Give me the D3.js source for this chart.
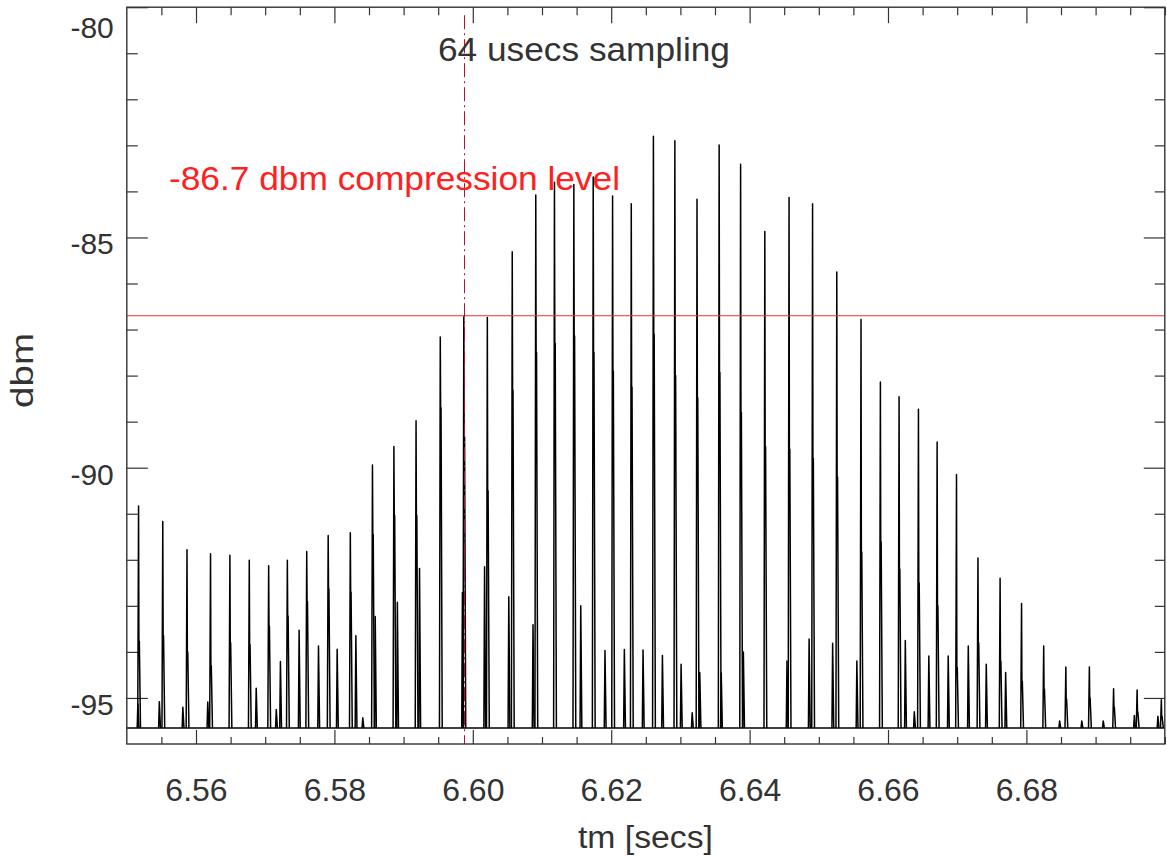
<!DOCTYPE html>
<html>
<head>
<meta charset="utf-8">
<script src="https://cdn.jsdelivr.net/npm/d3@7"></script>
<style>
  body { margin: 0; background: #fff; }
  svg { font-family: "Liberation Sans", Arial, Helvetica, sans-serif; }
  .axis text { fill: #333; font-size: 30px; }
  .axis line { stroke: #333; stroke-width: 1.2; }
  .trace { fill: none; stroke: #000; stroke-width: 1.5; stroke-linejoin: round; }
</style>
</head>
<body>
<div id="chart"></div>
<script>
// main pulses: time [secs], peak level [dbm], level of the step on the falling edge
var pulse_time = [6.5517, 6.5552, 6.5587, 6.5621, 6.5649, 6.5677, 6.5705, 6.5732, 6.5760, 6.5791,
                  6.5823, 6.5855, 6.5886, 6.5918, 6.5953, 6.5987, 6.6021, 6.6057, 6.6091, 6.6118,
                  6.6146, 6.6174, 6.6202, 6.6229, 6.6261, 6.6292, 6.6324, 6.6356, 6.6387, 6.6422,
                  6.6457, 6.6491, 6.6526, 6.6561, 6.6589, 6.6616, 6.6644, 6.6671, 6.6699, 6.6730,
                  6.6762, 6.6793, 6.6825, 6.6857, 6.6891, 6.6926, 6.6960, 6.6995];
var pulse_peak = [-90.83, -91.17, -91.78, -91.87, -91.90, -92.01, -92.13, -92.01, -91.82, -91.47,
                  -91.41, -89.94, -89.54, -88.98, -87.16, -86.72, -86.74, -85.31, -84.08, -83.80,
                  -83.85, -83.69, -84.10, -84.27, -82.80, -82.90, -84.17, -82.99, -83.41, -84.87,
                  -84.13, -84.27, -85.75, -86.78, -88.14, -88.46, -88.73, -89.44, -90.15, -91.96,
                  -92.40, -92.95, -93.87, -94.33, -94.33, -94.80, -94.83, -95.04];
var pulse_step = [-93.77, -93.65, -94.00, -94.30, -93.80, -93.84, -93.44, -93.22, -92.90, -92.63,
                  -92.70, -91.45, -91.04, -91.04, -88.70, -89.32, -90.50, -88.32, -87.50, -87.30,
                  -87.14, -87.50, -87.90, -88.25, -87.10, -88.00, -88.48, -87.93, -88.80, -89.54,
                  -89.60, -89.80, -90.20, -91.83, -91.61, -92.20, -92.50, -93.00, -94.34, -93.80,
                  -94.20, -94.64, -94.81, -95.03, -95.00, -95.20, -95.30, -95.40];

// small side pulses: time [secs], peak level [dbm]
var blip_time = [6.5516, 6.5547, 6.5581, 6.5617, 6.5687, 6.5716, 6.5722, 6.5749, 6.5777, 6.5804,
                 6.5831, 6.5841, 6.5859, 6.5891, 6.5923, 6.5985, 6.6017, 6.6052, 6.6087, 6.6156,
                 6.6191, 6.6219, 6.6246, 6.6274, 6.6301, 6.6317, 6.6328, 6.6359, 6.6391, 6.6454,
                 6.6486, 6.6520, 6.6555, 6.6625, 6.6638, 6.6659, 6.6687, 6.6716, 6.6742, 6.6770,
                 6.6848, 6.6880, 6.6911, 6.6956, 6.6990];
var blip_peak = [-95.13, -95.08, -95.20, -95.09, -94.79, -95.25, -94.21, -93.53, -93.87, -93.94,
                 -93.65, -95.43, -93.23, -92.92, -92.19, -92.71, -92.15, -92.80, -93.41, -93.00,
                 -93.97, -93.95, -93.96, -94.08, -94.27, -95.32, -94.45, -94.46, -94.00, -94.20,
                 -93.72, -93.81, -94.20, -93.75, -95.30, -94.09, -94.09, -93.87, -94.27, -94.45,
                 -95.50, -95.50, -95.50, -95.38, -95.40];

var noise_floor = -95.65;
var compression_level = -86.7;
var marker_time = 6.5988;

var x_ticks = [6.56, 6.58, 6.60, 6.62, 6.64, 6.66, 6.68];
var y_ticks = [-95, -90, -85, -80];

var margin = {top: 7.2, right: 2.2, bottom: 117, left: 126.8},
    width = 1167 - margin.left - margin.right,
    height = 861 - margin.top - margin.bottom;

var svg = d3.select("#chart").append("svg")
    .attr("width", 1167)
    .attr("height", 861)
  .append("g")
    .attr("transform", "translate(" + margin.left + "," + margin.top + ")");

var x = d3.scaleLinear().domain([6.55, 6.70]).range([0, width]);
var y = d3.scaleLinear().domain([-96, -80]).range([height, 0]);

var x_minor = d3.range(6.555, 6.7, 0.005).filter(function(v) {
    return x_ticks.every(function(t) { return Math.abs(t - v) > 1e-6; });
});
var y_minor = d3.range(-95, -80, 1).filter(function(v) { return v % 5 != 0; });

function minorAxis(axis, vals, size) {
    return axis.tickValues(vals).tickSize(size).tickFormat("");
}

// minor ticks on all four sides
svg.append("g").attr("class", "axis").attr("transform", "translate(0," + height + ")")
    .call(minorAxis(d3.axisBottom(x), x_minor, -7));
svg.append("g").attr("class", "axis")
    .call(minorAxis(d3.axisTop(x), x_minor, -8));
svg.append("g").attr("class", "axis")
    .call(minorAxis(d3.axisLeft(y), y_minor, -11));
svg.append("g").attr("class", "axis").attr("transform", "translate(" + width + ",0)")
    .call(minorAxis(d3.axisRight(y), y_minor, -10));

// major ticks (plain hyphen for the minus sign, as in the original)
svg.append("g").attr("class", "axis").attr("transform", "translate(0," + height + ")")
    .call(d3.axisBottom(x).tickValues(x_ticks).tickSize(-14).tickPadding(34)
          .tickFormat(function(d) { return d.toFixed(2); }))
    .selectAll("text").attr("dy", "0.71em").style("font-size", "32px");
svg.append("g").attr("class", "axis")
    .call(d3.axisTop(x).tickValues(x_ticks).tickSize(-16).tickFormat(""));
var yl = svg.append("g").attr("class", "axis")
    .call(d3.axisLeft(y).tickValues(y_ticks).tickSize(-21).tickPadding(13)
          .tickFormat(function(d) { return String(d); }));
yl.selectAll("text").attr("dy", function(d) { return d == -80 ? "1.0em" : "0.55em"; })
    .style("font-size", "30px");
svg.append("g").attr("class", "axis").attr("transform", "translate(" + width + ",0)")
    .call(d3.axisRight(y).tickValues(y_ticks).tickSize(-21).tickFormat(""));
svg.selectAll(".axis .domain").remove();

// signal trace: flat floor plus one path per pulse
var line = d3.line().x(function(d) { return x(d[0]); }).y(function(d) { return y(d[1]); });

svg.append("path").attr("class", "trace")
    .attr("d", line([[6.55, noise_floor], [6.70, noise_floor]]));

var pulses = pulse_time.map(function(t, i) {
    return [[t - 0.00012, noise_floor], [t, pulse_peak[i]], [t + 0.00005, pulse_step[i]],
            [t + 0.00011, pulse_step[i]], [t + 0.00028, noise_floor]];
});
var blips = blip_time.map(function(t, i) {
    return [[t - 0.0001, noise_floor], [t, blip_peak[i]], [t + 0.00016, noise_floor]];
});

svg.selectAll(".blip").data(blips).enter().append("path")
    .attr("class", "trace blip").attr("d", line);
svg.selectAll(".pulse").data(pulses).enter().append("path")
    .attr("class", "trace pulse").attr("d", line);

// compression level and sampling marker
svg.append("line")
    .attr("x1", 0).attr("x2", width)
    .attr("y1", y(compression_level)).attr("y2", y(compression_level))
    .attr("stroke", "#f03030").attr("stroke-width", 1.2);

svg.append("line")
    .attr("x1", x(marker_time)).attr("x2", x(marker_time))
    .attr("y1", 8).attr("y2", height)
    .attr("stroke", "#b01030").attr("stroke-width", 1)
    .attr("stroke-dasharray", "14,4,2,4");

// frame
svg.append("rect")
    .attr("width", width).attr("height", height)
    .attr("fill", "none").attr("stroke", "#333").attr("stroke-width", 1.4);

// texts
svg.append("text")
    .attr("x", 438 - margin.left).attr("y", 61.5 - margin.top)
    .attr("fill", "#333").style("font-size", "34px")
    .attr("textLength", 292).attr("lengthAdjust", "spacingAndGlyphs")
    .text("64 usecs sampling");

svg.append("text")
    .attr("x", 169 - margin.left).attr("y", 190 - margin.top)
    .attr("fill", "#ff2020").style("font-size", "32.5px")
    .attr("textLength", 451).attr("lengthAdjust", "spacingAndGlyphs")
    .text("-86.7 dbm compression level");

svg.append("text")
    .attr("x", 578 - margin.left).attr("y", 848 - margin.top)
    .attr("fill", "#333").style("font-size", "31px")
    .attr("textLength", 135).attr("lengthAdjust", "spacingAndGlyphs")
    .text("tm [secs]");

svg.append("text")
    .attr("transform", "translate(" + (33 - margin.left) + "," + (408 - margin.top) + ") rotate(-90)")
    .attr("fill", "#333").style("font-size", "32px")
    .attr("textLength", 75).attr("lengthAdjust", "spacingAndGlyphs")
    .text("dbm");
</script>
</body>
</html>
